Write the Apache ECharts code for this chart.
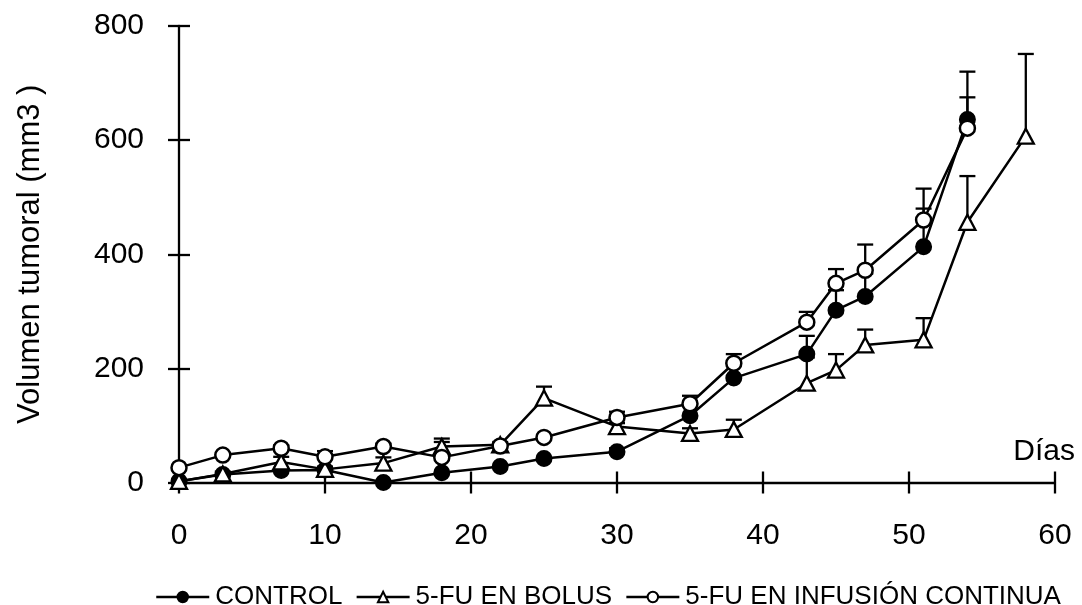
<!DOCTYPE html>
<html>
<head>
<meta charset="utf-8">
<script src="https://cdn.jsdelivr.net/npm/echarts@6/dist/echarts.min.js"></script>
<style>
  html, body { margin: 0; padding: 0; background: #fff; }
  #chart { width: 1082px; height: 605px; }
</style>
</head>
<body>
<div id="chart"></div>
<script>
// Tumour volume (mm3) over time, mean + upper error bar, three treatment groups
const controlDays = [0, 3, 7, 10, 14, 18, 22, 25, 30, 35, 38, 43, 45, 47, 51, 54];
const controlVals = [2, 14, 21, 22, 0, 17, 28, 42, 54, 117, 183, 225, 302, 326, 413, 636];
const controlErr  = [0, 0, 0, 0, 0, 0, 0, 0, 6, 0, 0, 32, 35, 40, 67, 84];

const bolusDays = [0, 3, 7, 10, 14, 18, 22, 25, 30, 35, 38, 43, 45, 47, 51, 54, 58];
const bolusVals = [2, 15, 36, 23, 34, 63, 66, 148, 98, 86, 93, 174, 197, 241, 250, 456, 607];
const bolusErr  = [0, 4, 9, 5, 10, 14, 5, 20, 6, 9, 17, 45, 28, 27, 38, 81, 144];

const infusionDays = [0, 3, 7, 10, 14, 18, 22, 25, 30, 35, 38, 43, 45, 47, 51, 54];
const infusionVals = [26, 48, 60, 45, 63, 44, 64, 79, 114, 138, 209, 281, 349, 372, 460, 621];
const infusionErr  = [0, 0, 5, 10, 5, 27, 5, 0, 10, 14, 16, 18, 25, 45, 55, 54];

const seriesNames = ['CONTROL', '5-FU EN BOLUS', '5-FU EN INFUSIÓN CONTINUA'];
const xTicks = [0, 10, 20, 30, 40, 50, 60];
const yTicks = [0, 200, 400, 600, 800];

const FONT = '"Liberation Sans", Arial, sans-serif';

function pairs(days, vals) {
  return days.map((d, i) => [d, vals[i]]);
}
function triples(days, vals, errs) {
  return days.map((d, i) => [d, vals[i], errs[i]]);
}

// vertical error bar with a cap, drawn upward from the mean
function errorBar(params, api) {
  const x = api.value(0), y = api.value(1), e = api.value(2);
  if (!e) return null;
  const p0 = api.coord([x, y]);
  const p1 = api.coord([x, y + e]);
  const half = 8;
  const style = { stroke: '#000', lineWidth: 2.3 };
  return {
    type: 'group',
    children: [
      { type: 'line', shape: { x1: p0[0], y1: p0[1], x2: p1[0], y2: p1[1] }, style },
      { type: 'line', shape: { x1: p1[0] - half, y1: p1[1], x2: p1[0] + half, y2: p1[1] }, style }
    ]
  };
}

function errSeries(data) {
  return {
    type: 'custom',
    renderItem: errorBar,
    data: data,
    encode: { x: 0, y: [1, 2] },
    z: 1,
    silent: true,
    legendHoverLink: false
  };
}

const lineBase = {
  type: 'line',
  symbolSize: 15,
  lineStyle: { color: '#000', width: 2.5 },
  z: 3,
  animation: false
};

const xRange = { min: xTicks[0], max: xTicks[xTicks.length - 1], interval: 10 };
const yRange = { min: yTicks[0], max: yTicks[yTicks.length - 1], interval: 200 };

const option = {
  animation: false,
  backgroundColor: '#fff',
  grid: { left: 179, right: 27, top: 26, bottom: 122.5, containLabel: false },
  xAxis: [
    {
      type: 'value', position: 'bottom', ...xRange,
      name: 'Días', nameLocation: 'end', nameGap: 20,
      nameTextStyle: { fontFamily: FONT, fontSize: 30, color: '#000', align: 'right', verticalAlign: 'bottom', padding: [0, 0, 16, 0] },
      axisLine: { lineStyle: { color: '#000', width: 2.3 } },
      axisTick: { show: true, length: 11, lineStyle: { color: '#000', width: 2.3 } },
      axisLabel: { fontFamily: FONT, fontSize: 30, color: '#000', margin: 38 },
      splitLine: { show: false }
    },
    {
      type: 'value', position: 'bottom', ...xRange,
      axisLine: { show: false },
      axisTick: { show: true, inside: true, length: 11, lineStyle: { color: '#000', width: 2.3 } },
      axisLabel: { show: false },
      splitLine: { show: false }
    }
  ],
  yAxis: [
    {
      type: 'value', position: 'left', ...yRange,
      name: 'Volumen tumoral (mm3 )', nameLocation: 'middle', nameGap: 133,
      nameTextStyle: { fontFamily: FONT, fontSize: 31, color: '#000' },
      axisLine: { lineStyle: { color: '#000', width: 2.3 } },
      axisTick: { show: true, length: 11, lineStyle: { color: '#000', width: 2.3 } },
      axisLabel: { fontFamily: FONT, fontSize: 30, color: '#000', margin: 35 },
      splitLine: { show: false }
    },
    {
      type: 'value', position: 'left', ...yRange,
      axisLine: { show: false },
      axisTick: { show: true, inside: true, length: 11, lineStyle: { color: '#000', width: 2.3 } },
      axisLabel: { show: false },
      splitLine: { show: false }
    }
  ],
  legend: {
    left: 150, top: 579,
    itemWidth: 53, itemHeight: 13, itemGap: 13,
    lineStyle: { width: 2.5, color: '#000' },
    textStyle: { fontFamily: FONT, fontSize: 26, color: '#000', padding: [0, 0, 0, 1] },
    data: seriesNames
  },
  series: [
    errSeries(triples(controlDays, controlVals, controlErr)),
    errSeries(triples(bolusDays, bolusVals, bolusErr)),
    errSeries(triples(infusionDays, infusionVals, infusionErr)),
    Object.assign({}, lineBase, {
      name: seriesNames[0], symbol: 'circle',
      itemStyle: { color: '#000', borderColor: '#000', borderWidth: 2 },
      data: pairs(controlDays, controlVals)
    }),
    Object.assign({}, lineBase, {
      name: seriesNames[1], symbol: 'triangle', symbolSize: [16, 15],
      itemStyle: { color: '#fff', borderColor: '#000', borderWidth: 2.3 },
      data: pairs(bolusDays, bolusVals)
    }),
    Object.assign({}, lineBase, {
      name: seriesNames[2], symbol: 'circle',
      itemStyle: { color: '#fff', borderColor: '#000', borderWidth: 2.5 },
      data: pairs(infusionDays, infusionVals)
    })
  ]
};

const chart = echarts.init(document.getElementById('chart'), null, { renderer: 'canvas' });
chart.setOption(option);
</script>
</body>
</html>
